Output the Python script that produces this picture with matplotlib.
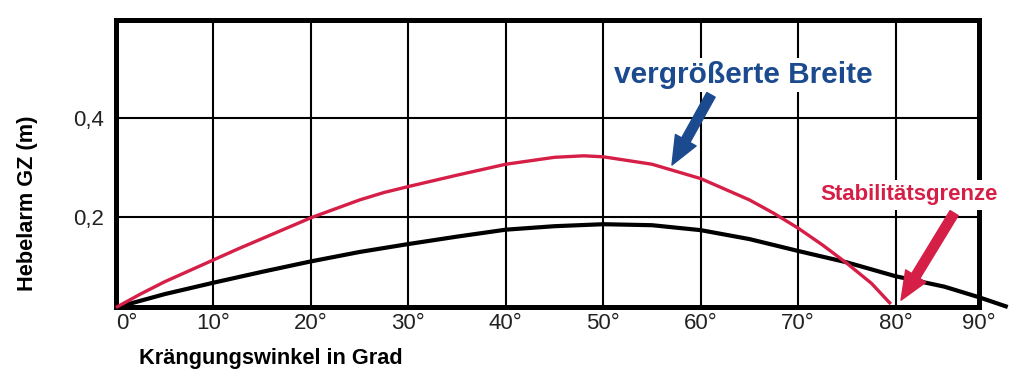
import matplotlib
matplotlib.use("Agg")
import matplotlib.pyplot as plt

# Schriften: Arial-aehnlich
plt.rcParams['font.family'] = ['Liberation Sans', 'DejaVu Sans']

# Daten (Winkel in Grad, Hebelarm GZ in m)
winkel_normal = [0, 5, 10, 15, 20, 25, 30, 35, 40, 45, 50, 55, 60, 65, 70, 75, 80, 85, 88.5, 91.5]
gz_normal = [0.017, 0.044, 0.067, 0.089, 0.110, 0.129, 0.145, 0.160, 0.174, 0.181, 0.185, 0.183,
             0.173, 0.155, 0.131, 0.108, 0.080, 0.059, 0.038, 0.018]

winkel_breit = [0, 2.5, 5, 7.5, 10, 12.5, 15, 17.5, 20, 22.5, 25, 27.5, 30, 35, 40, 45, 48, 50,
                55, 60, 65, 67.5, 70, 72.5, 75, 77.5, 79.5]
gz_breit = [0.017, 0.044, 0.069, 0.091, 0.113, 0.135, 0.156, 0.177, 0.198, 0.216, 0.234, 0.249,
            0.261, 0.284, 0.306, 0.320, 0.323, 0.321, 0.306, 0.277, 0.234, 0.207, 0.177, 0.143,
            0.106, 0.066, 0.024]

x_ticks = [0, 10, 20, 30, 40, 50, 60, 70, 80, 88.55]
x_labels = ['0°', '10°', '20°', '30°', '40°', '50°', '60°', '70°', '80°', '90°']
y_ticks = [0.2, 0.4]
y_labels = ['0,2', '0,4']

rot = '#d61f47'
blau = '#1b4a8e'

fig = plt.figure(figsize=(10.34, 3.86), dpi=100)
ax = fig.add_axes([0.1122, 0.2034, 0.9468 - 0.1122, 0.9482 - 0.2034])

ax.plot(winkel_normal, gz_normal, color='black', lw=3.0, clip_on=False, zorder=4, solid_capstyle='butt')
ax.plot(winkel_breit, gz_breit, color=rot, lw=2.4, clip_on=False, zorder=4, solid_capstyle='butt')

ax.set_xlim(0, 88.55)
ax.set_ylim(0.017, 0.597)

ax.set_xticks(x_ticks)
ax.set_xticklabels(x_labels)
ax.set_yticks(y_ticks)
ax.set_yticklabels(y_labels)
ax.get_xticklabels()[0].set_horizontalalignment('left')

ax.tick_params(length=0, labelsize=16, labelcolor='#222222')
ax.tick_params(axis='x', pad=4)
ax.tick_params(axis='y', pad=9)
ax.grid(True, color='black', lw=1.5)
ax.set_axisbelow(True)

for s in ax.spines.values():
    s.set_linewidth(3.6)
    s.set_color('black')

# Beschriftungen
fig.text(139 / 1034, 0.0725, 'Krängungswinkel in Grad', fontsize=15.7, fontweight='bold',
         ha='left', va='center')
fig.text(0.027, 0.474, 'Hebelarm GZ (m)', fontsize=15.7, fontweight='bold',
         rotation=90, ha='center', va='center')

ax.text(64.4, 0.486, 'vergrößerte Breite', color=blau, fontsize=21.5, fontweight='bold',
        ha='center', va='center', zorder=5,
        bbox=dict(facecolor='white', edgecolor='none', pad=2))
ax.annotate('', xy=(57.05, 0.3045), xytext=(61.05, 0.446),
            arrowprops=dict(arrowstyle='simple,head_length=1.2,head_width=1.0,tail_width=0.4',
                            color=blau, mutation_scale=17, shrinkA=0, shrinkB=0), zorder=6)

ax.text(81.4, 0.244, 'Stabilitätsgrenze', color=rot, fontsize=16, fontweight='bold',
        ha='center', va='center', zorder=5,
        bbox=dict(facecolor='white', edgecolor='none', pad=3))
ax.annotate('', xy=(80.55, 0.0317), xytext=(86.0, 0.2075),
            arrowprops=dict(arrowstyle='simple,head_length=1.2,head_width=1.0,tail_width=0.4',
                            color=rot, mutation_scale=17, shrinkA=0, shrinkB=0),
            annotation_clip=False, zorder=6)

fig.savefig('out.png', dpi=100)
